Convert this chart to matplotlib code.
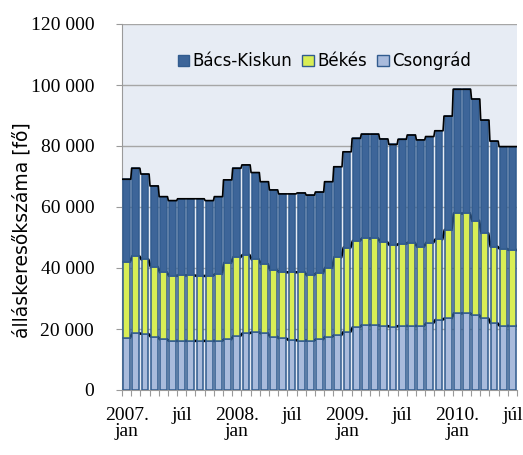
import matplotlib
matplotlib.use("Agg")
import matplotlib.pyplot as plt
import numpy as np
from matplotlib.ticker import FuncFormatter, MultipleLocator
from matplotlib.patches import Patch

series_names = ["Bács-Kiskun", "Békés", "Csongrád"]

csongrad = [17.1, 18.6, 18.4, 17.5, 16.6, 16.1, 16.1, 16.1, 16.1, 16.1, 16.1, 16.6,
            17.7, 18.6, 18.9, 18.6, 17.5, 16.9, 16.4, 16.2, 16.2, 16.6, 17.5, 18.0,
            19.1, 20.6, 21.3, 21.3, 21.0, 20.8, 21.0, 21.0, 21.0, 21.9, 23.0, 23.5,
            25.1, 25.2, 24.6, 23.5, 21.9, 21.0, 21.0]
bekes = [25.0, 25.3, 24.4, 22.9, 22.0, 21.3, 21.5, 21.5, 21.3, 21.3, 21.9, 25.1,
         25.8, 25.7, 23.9, 22.7, 21.8, 21.7, 22.2, 22.4, 21.4, 21.7, 22.6, 25.5,
         27.6, 28.3, 28.4, 28.4, 27.5, 26.7, 26.9, 27.3, 26.0, 26.4, 26.4, 29.0,
         32.8, 32.7, 30.9, 27.9, 25.1, 25.3, 24.9]
bacs = [27.0, 28.8, 28.0, 26.5, 24.8, 24.7, 25.1, 25.1, 25.3, 24.7, 25.4, 27.2,
        29.2, 29.5, 28.5, 27.0, 26.3, 25.7, 25.7, 26.0, 26.3, 26.6, 28.2, 29.7,
        31.4, 33.6, 34.2, 34.2, 33.8, 33.0, 34.3, 35.3, 35.0, 34.8, 35.6, 37.3,
        40.7, 40.7, 39.9, 37.1, 34.6, 33.5, 33.9]

tick_positions = [0, 6, 12, 18, 24, 30, 36, 42]
tick_labels = ["2007.\njan", "júl", "2008.\njan", "júl", "2009.\njan", "júl", "2010.\njan", "júl"]

c = np.array(csongrad) * 1000
b = np.array(bekes) * 1000
k = np.array(bacs) * 1000
n = len(c)
x = np.arange(n)

col_bacs = "#3D6599"
col_bekes = "#D9EE55"
col_cson = "#A9BBDC"
edge = "#325C8F"

fig = plt.figure(figsize=(5.23, 4.55), dpi=100)
ax = fig.add_axes([122/523, 1 - 390/455, (517-122)/523, (390-24)/455])
ax.set_facecolor("#E7ECF4")

w = 0.74
elw = 1.1
ax.bar(x, c, width=w, color=col_cson, edgecolor=edge, linewidth=elw, zorder=3)
ax.bar(x, b, width=w, bottom=c, color=col_bekes, edgecolor=edge, linewidth=elw, zorder=3)
ax.bar(x, k, width=w, bottom=c + b, color=col_bacs, edgecolor=edge, linewidth=elw, zorder=3)

def step_line(levels, z, lw, half):
    xs, ys = [], []
    for i, v in enumerate(levels):
        xs += [i - half, i + half]
        ys += [v, v]
    ax.plot(xs, ys, color="black", lw=lw, zorder=z, solid_joinstyle="round")

step_line(c, 2.5, 1.8, w/2)
step_line(c + b, 2.5, 1.8, w/2)
step_line(c + b + k, 4, 1.2, w/2 + 0.08)

ax.set_xlim(-0.5, n - 0.5)
ax.set_ylim(0, 120000)
ax.yaxis.set_major_locator(MultipleLocator(20000))
ax.yaxis.set_major_formatter(FuncFormatter(lambda v, p: f"{int(v):,}".replace(",", " ")))
ax.grid(axis="y", color="#A6A6A6", lw=1.0, zorder=1)

ax.set_xticks(tick_positions)
ax.set_xticklabels(tick_labels, fontsize=14, linespacing=0.95, family="Liberation Serif")
ax.set_xticks(np.arange(-0.5, n, 1), minor=True)
ax.tick_params(axis="x", which="major", length=0, pad=12)
ax.tick_params(axis="x", which="minor", length=4, color="#9A9A9A", width=0.8)
ax.tick_params(axis="y", length=4, color="#9A9A9A", pad=16)
for lab in ax.get_yticklabels():
    lab.set_family("Liberation Serif")
    lab.set_fontsize(14)

for s in ["top", "right"]:
    ax.spines[s].set_visible(False)
for s in ["left", "bottom"]:
    ax.spines[s].set_color("#9A9A9A")

fig.text(22/523, 1 - 230/455, "álláskeresőkszáma [fő]", rotation=90, fontsize=13.5,
         ha="center", va="center")

handles = [Patch(facecolor=col_bacs, edgecolor=edge),
           Patch(facecolor=col_bekes, edgecolor=edge),
           Patch(facecolor=col_cson, edgecolor=edge)]
ax.legend(handles, series_names, loc="upper center", bbox_to_anchor=(0.512, 0.965),
          ncol=3, frameon=False, fontsize=12, handlelength=0.7, handleheight=0.7,
          handletextpad=0.2, columnspacing=0.6)

fig.savefig("out.png", dpi=100)
